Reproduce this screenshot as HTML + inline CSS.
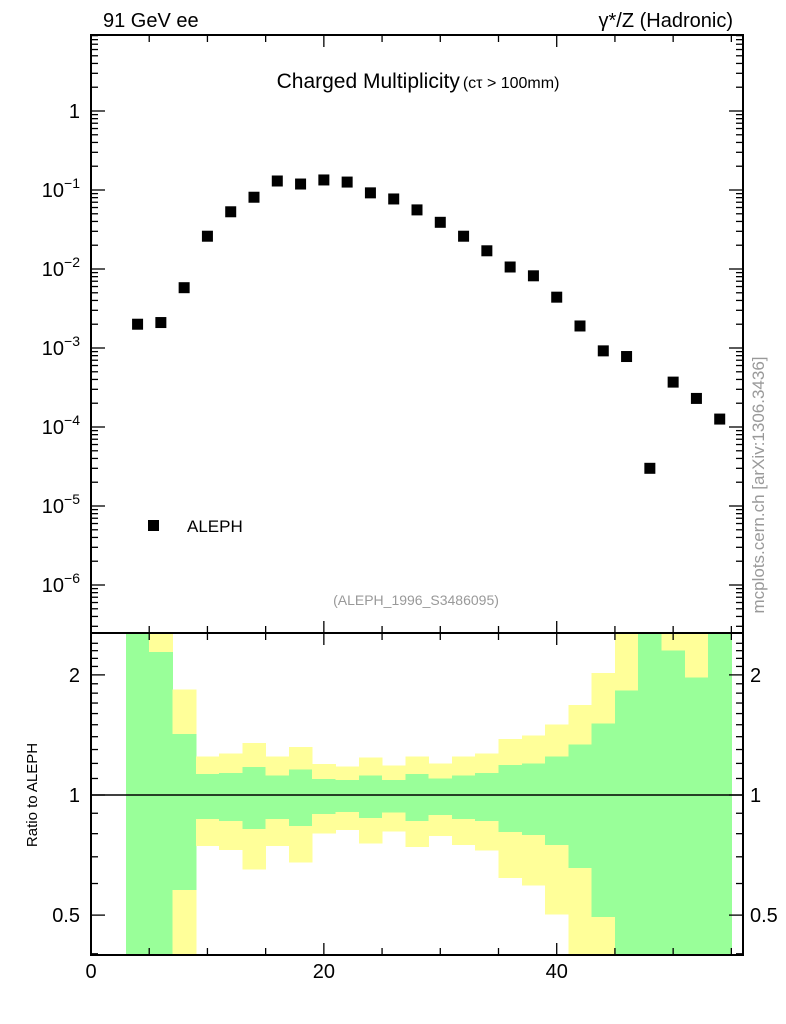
<!DOCTYPE html>
<html><head><meta charset="utf-8"><style>
body{margin:0;background:#fff;}
svg{display:block;font-family:"Liberation Sans",sans-serif;}
</style></head><body>
<svg id="c" width="786" height="1024" viewBox="0 0 786 1024" xmlns="http://www.w3.org/2000/svg"></svg>
<script>
const xCenters=[4,6,8,10,12,14,16,18,20,22,24,26,28,30,32,34,36,38,40,42,44,46,48,50,52,54];
const alephValues=[2.0e-3,2.1e-3,5.8e-3,0.026,0.053,0.081,0.13,0.119,0.134,0.126,0.092,0.077,0.056,0.039,0.026,0.017,0.0106,0.0082,0.0044,0.0019,9.2e-4,7.8e-4,3.0e-5,3.7e-4,2.3e-4,1.26e-4];
const binEdgesLo=[3,5,7,9,11,13,15,17,19,21,23,25,27,29,31,33,35,37,39,41,43,45,47,49,51,53];
const yellowHi=[3,3,1.84,1.25,1.27,1.35,1.25,1.32,1.196,1.18,1.24,1.184,1.25,1.20,1.25,1.27,1.38,1.41,1.50,1.68,2.02,3,3,3,3,3];
const greenHi=[3,2.28,1.42,1.13,1.135,1.175,1.12,1.16,1.097,1.09,1.12,1.09,1.13,1.10,1.12,1.135,1.19,1.20,1.25,1.34,1.51,1.83,3,2.30,1.97,3];
const greenLo=[0.3,0.3,0.578,0.87,0.86,0.822,0.87,0.836,0.896,0.906,0.876,0.903,0.86,0.89,0.87,0.86,0.808,0.794,0.75,0.657,0.494,0.3,0.3,0.3,0.3,0.3];
const yellowLo=[0.3,0.3,0.3,0.744,0.727,0.65,0.746,0.677,0.80,0.817,0.755,0.81,0.74,0.79,0.75,0.725,0.62,0.593,0.502,0.3,0.3,0.3,0.3,0.3,0.3,0.3];
const xTicks=[0,20,40];
const mainTickExps=[0,-1,-2,-3,-4,-5,-6];
const ratioTicks=[0.5,1,2];

const L=91,R=743,T=35,M=633,B=955;
const X=v=>L+v*(R-L)/56;
const Y=v=>111-79*Math.log10(v);
const RY=v=>Math.min(B,Math.max(M,795-399*Math.log10(v)));
const svg=document.getElementById('c');
const NS='http://www.w3.org/2000/svg';
function add(tag,attrs,parent){const e=document.createElementNS(NS,tag);for(const k in attrs)e.setAttribute(k,attrs[k]);(parent||svg).appendChild(e);return e;}
function txt(s,x,y,size,anchor,fill,parent){const t=add('text',{x:x,y:y,'font-size':size,'text-anchor':anchor||'start',fill:fill||'#000'},parent);t.textContent=s;return t;}

const bands=add('g',{'shape-rendering':'crispEdges'});


for(let i=0;i<binEdgesLo.length;i++){
  const x0=X(binEdgesLo[i]),x1=X(binEdgesLo[i]+2);
  const y=add('rect',{x:x0,y:RY(yellowHi[i]),width:x1-x0+0.5,height:RY(yellowLo[i])-RY(yellowHi[i]),fill:'#ffff99'},bands);
  
  
  const g=add('rect',{x:x0,y:RY(greenHi[i]),width:x1-x0+0.5,height:RY(greenLo[i])-RY(greenHi[i]),fill:'#99ff99'},bands);
  
  
}
const one=add('line',{x1:L,x2:R,y1:RY(1),y2:RY(1),stroke:'#000','stroke-width':1.5});



const f1=add('rect',{x:L,y:T,width:R-L,height:M-T,fill:'none',stroke:'#000','stroke-width':2});


const f2=add('rect',{x:L,y:M,width:R-L,height:B-M,fill:'none',stroke:'#000','stroke-width':2});



const ticks=add('g',{stroke:'#000','stroke-width':1.3});


for(let v=0;v<=55;v+=5){
  const x=X(v),len=(v%20===0)?12:7;
  [[T,1],[M,-1],[M,1],[B,-1]].forEach(([y0,d])=>add('line',{x1:x,x2:x,y1:y0,y2:y0+d*len},ticks));
}
for(let e=-7;e<=1;e++){
  for(let m=1;m<10;m++){
    const v=m*Math.pow(10,e);const y=Y(v);
    if(y<T||y>M)continue;
    const len=m===1?14:7;
    add('line',{x1:L,x2:L+len,y1:y,y2:y},ticks);
    add('line',{x1:R,x2:R-len,y1:y,y2:y},ticks);
  }
}
for(let v=0.4;v<=2.5;v+=0.1){
  const vv=Math.round(v*10)/10;const y=RY(vv);
  if(y<=M||y>=B)continue;
  const len=(vv===0.5||vv===1||vv===2)?14:7;
  add('line',{x1:L,x2:L+len,y1:y,y2:y},ticks);
  add('line',{x1:R,x2:R-len,y1:y,y2:y},ticks);
}

xTicks.forEach(v=>{const t=txt(String(v),X(v),978,20,'middle');
  
  });
mainTickExps.forEach(e=>{
  const y=Y(Math.pow(10,e))+7;
  let t;
  if(e===0){t=txt('1',80,y,20,'end');}
  else{
    t=add('text',{x:80,y:y,'font-size':20,'text-anchor':'end'});
    const a=add('tspan',{},t);a.textContent='10';
    const b=add('tspan',{dy:-9,'font-size':14},t);b.textContent=String(e).replace('-','\u2212');
  }
  
  
});
ratioTicks.forEach(v=>{
  const y=RY(v)+7;
  const a=txt(String(v),80,y,20,'end');
  
  
  const b=txt(String(v),750,y,20,'start');
  
  
});

const pts=add('g',{fill:'#000'});


for(let i=0;i<xCenters.length;i++){
  const p=add('rect',{x:X(xCenters[i])-5.5,y:Y(alephValues[i])-5.5,width:11,height:11},pts);
  
  
}

let t=txt('91 GeV ee',103,27,20,'start');

t=txt('\u03b3*/Z (Hadronic)',733,27,20,'end');

t=add('text',{x:418,y:88,'text-anchor':'middle'});

let s=add('tspan',{'font-size':21},t);s.textContent='Charged Multiplicity';
s=add('tspan',{'font-size':16,dx:3},t);s.textContent='(c\u03c4 > 100mm)';
const lm=add('rect',{x:148,y:520,width:11,height:11,fill:'#000'});

t=txt('ALEPH',187,532,17,'start');

t=txt('(ALEPH_1996_S3486095)',416,605,14,'middle','#999');

t=txt('mcplots.cern.ch [arXiv:1306.3436]',0,0,17,'middle','#999');
t.setAttribute('transform','translate(764,485) rotate(-90)');

t=txt('Ratio to ALEPH',0,0,15,'middle');
t.setAttribute('transform','translate(37,795) rotate(-90)');

</script>
</body></html>
